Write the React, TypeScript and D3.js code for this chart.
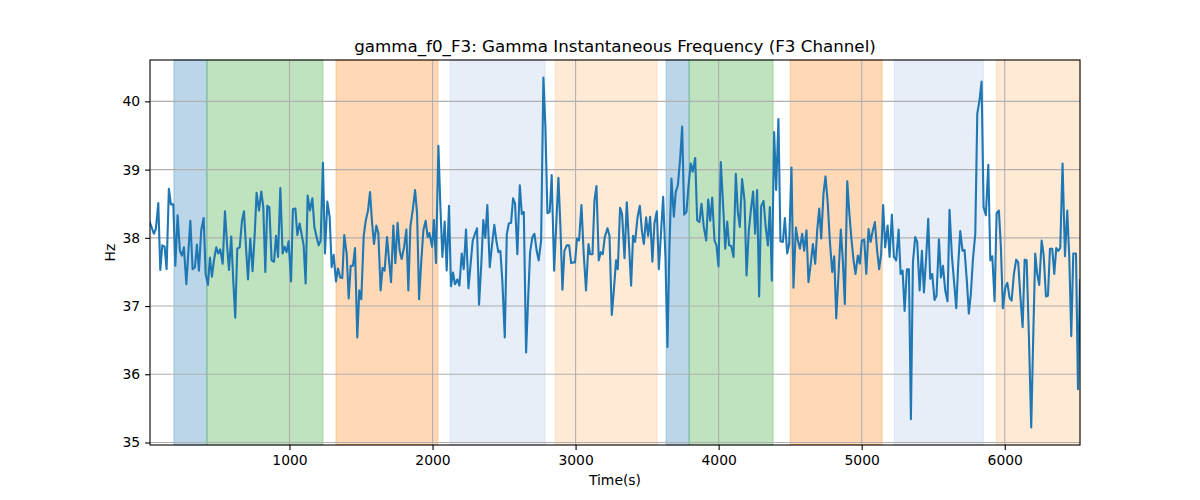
import React, { useEffect, useRef } from "react";
import * as d3 from "d3";

// time (s) of each sample
const times = [
  25, 52, 66, 83, 97, 111, 127, 141, 157, 171, 188, 202, 218, 234, 248, 262, 279, 307, 323, 339,
  353, 367, 383, 400, 414, 430, 444, 458, 472, 488, 502, 516, 533, 549, 565, 577, 593, 607, 621, 635,
  652, 668, 682, 696, 710, 726, 742, 756, 770, 787, 803, 817, 831, 845, 859, 875, 892, 906, 920, 936,
  952, 966, 980, 994, 1011, 1024, 1041, 1055, 1071, 1099, 1113, 1127,
  1143, 1160, 1174, 1190, 1204, 1218, 1234, 1248, 1265, 1281, 1295, 1309, 1325, 1339, 1355, 1369, 1383, 1400,
  1414, 1428, 1444, 1458, 1474, 1488, 1502, 1519, 1533, 1549, 1563, 1577, 1591, 1607, 1621, 1637, 1651, 1665,
  1682, 1696, 1710, 1726, 1740, 1756, 1770, 1784, 1801, 1817, 1831, 1845, 1861, 1878, 1892, 1906, 1920, 1936,
  1952, 1966, 1978, 1997, 2010, 2024, 2041, 2055, 2069, 2085, 2099, 2115, 2129, 2143, 2157, 2174, 2188,
  2204, 2218, 2234, 2251, 2265, 2281, 2297, 2311, 2325, 2341, 2355, 2369, 2383, 2400, 2414, 2432, 2446, 2460,
  2474, 2488, 2505, 2519, 2533, 2549, 2563, 2577, 2593, 2610, 2624, 2638, 2654, 2668, 2682, 2698, 2712, 2728,
  2742, 2759, 2775, 2789, 2803, 2819, 2833, 2850, 2864, 2880, 2894, 2908, 2922, 2938, 2955, 2969, 2983, 2996,
  3010, 3024, 3041, 3057, 3073, 3090, 3101, 3118, 3132, 3146, 3162, 3176, 3190, 3204, 3223, 3237, 3253,
  3267, 3283, 3295, 3311, 3325, 3342, 3358, 3372, 3388, 3402, 3416, 3433, 3449, 3463, 3477, 3493, 3507, 3521,
  3537, 3551, 3568, 3582, 3596, 3612, 3628, 3642, 3656, 3670, 3687, 3700, 3715, 3731, 3745, 3759, 3775, 3789,
  3805, 3819, 3836, 3850, 3866, 3880, 3896, 3913, 3927, 3941, 3955, 3971, 3985, 3999, 4015, 4032, 4046, 4060,
  4073, 4088, 4104, 4120, 4134, 4148, 4164, 4181, 4195, 4211, 4225, 4241, 4255, 4269, 4283, 4297, 4314, 4328,
  4344, 4358,
  4372, 4388, 4402, 4418, 4432, 4449, 4463, 4479, 4493, 4509, 4523, 4540, 4554, 4568, 4584, 4598, 4614, 4628,
  4645, 4659, 4675, 4689, 4703, 4717, 4733, 4747, 4763, 4777, 4794, 4808, 4822, 4838, 4854, 4868, 4882, 4899,
  4913, 4927, 4943, 4957, 4973, 4987, 5001, 5018, 5032, 5048, 5062, 5078, 5092, 5108, 5122, 5136, 5150, 5164,
  5181, 5195, 5211, 5225, 5241, 5258, 5272, 5286, 5300, 5316, 5330, 5344, 5358, 5374, 5388, 5405, 5421, 5435,
  5451, 5465, 5479, 5493, 5509, 5523, 5540, 5554, 5568, 5584, 5600, 5614, 5631, 5645, 5661, 5675, 5689, 5705,
  5719, 5735, 5749, 5763, 5777, 5794, 5808, 5824, 5838, 5852, 5868, 5885, 5899, 5913, 5929, 5943, 5959, 5973,
  5987, 6004, 6018, 6034, 6048, 6064, 6080, 6094, 6108, 6125, 6139, 6153, 6169, 6185, 6199, 6213, 6227, 6241,
  6258, 6272, 6288, 6302, 6316, 6332, 6346, 6360, 6374, 6388, 6404, 6421, 6437, 6451, 6465, 6479, 6498, 6512,
  6526,
];

// gamma instantaneous frequency (Hz)
const freqs = [
  38.22, 38.06, 38.13, 38.51, 37.53, 37.89, 37.87, 37.54, 38.72, 38.49, 38.49, 37.59, 38.33, 37.81, 37.74, 37.86, 37.32, 38.25, 37.54, 37.57,
  37.9, 37.52, 38.11, 38.29, 37.47, 37.31, 37.71, 37.43, 37.67, 37.86, 37.77, 37.83, 37.62, 38.39, 37.86, 37.53, 38.02, 37.37, 36.83, 37.84,
  37.86, 38.25, 38.39, 37.86, 37.39, 37.99, 37.51, 38.01, 38.66, 38.4, 38.68, 38.45, 37.5, 38.47, 38.45, 37.67, 37.65, 38.03, 37.72, 38.73,
  37.77, 37.87, 37.79, 37.95, 37.36, 38.42, 38.43, 38.04, 38.21, 37.89, 37.33, 38.62,
  38.4, 38.58, 38.16, 38.01, 37.89, 37.96, 39.1, 37.77, 38.53, 38.3, 37.57, 37.75, 37.36, 37.55, 37.42, 37.41, 38.04, 37.76,
  37.11, 37.59, 37.59, 37.85, 36.54, 37.23, 37.1, 38.03, 38.25, 38.4, 38.67, 38.23, 37.91, 38.18, 38.07, 37.23, 37.56, 37.52,
  38.01, 37.67, 37.35, 38.18, 37.63, 38.22, 37.81, 37.69, 37.86, 38.12, 37.23, 38.16, 38.4, 38.7, 38.35, 37.1, 37.62, 38.11,
  38.25, 38.01, 38.07, 37.87, 38.26, 37.63, 39.35, 38.45, 37.72, 38.24, 37.52, 38.47, 37.29, 37.49, 37.32, 37.39, 37.3,
  37.77, 37.54, 38.12, 37.26, 37.59, 37.96, 38.06, 38.14, 37.02, 37.62, 38.26, 38.0, 38.48, 37.57, 37.86, 38.19, 37.96, 37.79,
  37.81, 37.37, 36.54, 38.05, 38.21, 38.22, 38.58, 38.5, 37.76, 38.77, 38.35, 38.38, 36.32, 37.09, 37.79, 38.01, 38.06, 37.81,
  37.67, 37.96, 40.35, 39.63, 38.36, 38.38, 38.92, 37.52, 38.16, 38.88, 38.16, 37.24, 37.81, 37.89, 37.89, 37.63, 37.64, 37.64,
  37.99, 37.96, 38.48, 37.76, 37.23, 37.91, 37.76, 37.76, 38.55, 38.76, 37.67, 37.79, 37.76, 38.01, 38.14, 38.03, 36.87,
  37.22, 37.67, 37.54, 38.44, 38.35, 37.7, 38.52, 37.96, 37.3, 38.03, 37.94, 38.3, 38.47, 38.11, 37.91, 38.3, 38.03, 38.31,
  37.65, 38.21, 38.39, 37.54, 38.03, 38.6, 37.72, 36.4, 37.86, 38.87, 38.31, 38.67, 38.77, 39.16, 39.63, 38.34, 38.38, 38.75,
  39.09, 38.97, 39.17, 38.26, 38.23, 38.5, 38.16, 37.96, 38.56, 38.25, 38.59, 37.96, 37.89, 37.58, 39.11, 38.45, 37.84, 38.24,
  37.89, 37.88, 37.72, 38.94, 38.38, 38.16, 38.86, 38.55, 37.45, 38.11, 38.4, 38.68, 38.06, 38.7, 37.14, 38.46, 38.54, 38.18,
  37.89, 38.45,
  37.37, 39.55, 38.7, 39.74, 37.95, 37.94, 38.29, 37.77, 37.91, 39.03, 37.27, 38.15, 37.96, 37.84, 38.06, 37.81, 38.11, 37.35,
  37.64, 37.91, 37.62, 38.11, 38.43, 37.99, 38.65, 38.9, 38.5, 37.96, 37.5, 37.73, 36.82, 37.47, 38.12, 37.67, 37.03, 38.83,
  38.38, 38.01, 37.67, 37.47, 37.74, 37.62, 37.96, 37.97, 37.47, 38.13, 37.94, 38.11, 38.23, 37.81, 37.54, 37.76, 38.48, 37.86,
  38.18, 37.72, 38.34, 37.72, 37.67, 38.12, 37.47, 37.52, 36.93, 37.54, 37.54, 35.34, 37.64, 38.01, 37.94, 37.23, 37.81, 37.2,
  37.72, 38.28, 37.4, 37.47, 37.09, 37.15, 37.98, 37.42, 37.59, 37.23, 37.07, 38.41, 37.72, 37.37, 36.97, 37.62, 38.1, 37.81,
  37.82, 37.37, 36.89, 37.18, 37.67, 38.06, 39.82, 40.02, 40.29, 38.45, 38.33, 39.07, 37.67, 37.73, 37.07, 38.36, 38.4, 37.86,
  36.97, 37.27, 37.34, 37.12, 37.08, 37.47, 37.68, 37.64, 37.18, 36.69, 37.68, 37.67, 36.54, 35.22, 36.54, 37.77, 37.47, 37.31,
  37.96, 37.75, 37.14, 37.15, 37.84, 37.84, 37.47, 37.85, 37.81, 37.85, 39.09, 37.73, 38.4, 37.72, 36.56, 37.77, 37.77, 35.78,
  37.38,
];

// shaded segments: start, end, kind
const segStarts = [192, 423, 1325, 2122, 2857, 3633, 3794, 4500, 5228, 5941];
const segEnds = [423, 1234, 2038, 2787, 3570, 3794, 4381, 5143, 5851, 6527];
const segKinds = ["blue", "green", "orange", "lightblue", "lightorange", "blue", "green", "orange", "lightblue", "lightorange"];

const xTicks = [1000, 2000, 3000, 4000, 5000, 6000];
const yTicks = [35, 36, 37, 38, 39, 40];

const kindColor: Record<string, string> = {
  blue: "#1f77b4",
  green: "#2ca02c",
  orange: "#ff7f0e",
  lightblue: "#aec7e8",
  lightorange: "#ffbb78",
};

const W = 1200;
const H = 500;
const margin = { top: 60, right: 120, bottom: 55, left: 150 };
const font = "DejaVu Sans, sans-serif";

export default function App() {
  const xAxisRef = useRef<SVGGElement>(null);
  const yAxisRef = useRef<SVGGElement>(null);

  const innerW = W - margin.left - margin.right;
  const innerH = H - margin.top - margin.bottom;

  const x = d3.scaleLinear().domain([times[0], times[times.length - 1]]).range([0, innerW]);
  const yMin = d3.min(freqs) as number;
  const yMax = d3.max(freqs) as number;
  const pad = (yMax - yMin) * 0.05;
  const y = d3.scaleLinear().domain([yMin - pad, yMax + pad]).range([innerH, 0]);

  const points = times.map((t, i) => [t, freqs[i]] as [number, number]);
  const line = d3
    .line<[number, number]>()
    .x((d) => x(d[0]))
    .y((d) => y(d[1]));

  useEffect(() => {
    const gx = d3.select(xAxisRef.current);
    gx.call(
      d3.axisBottom(x).tickValues(xTicks).tickFormat(d3.format("d")).tickSize(4.9).tickPadding(4.9).tickSizeOuter(0)
    );
    gx.select(".domain").remove();
    gx.selectAll("text").attr("font-size", 13.9).attr("font-family", font).attr("fill", "#000");
    gx.selectAll("line").attr("stroke", "#000").attr("stroke-width", 1.1);

    const gy = d3.select(yAxisRef.current);
    gy.call(
      d3.axisLeft(y).tickValues(yTicks).tickFormat(d3.format("d")).tickSize(4.9).tickPadding(4.9).tickSizeOuter(0)
    );
    gy.select(".domain").remove();
    gy.selectAll("text").attr("font-size", 13.9).attr("font-family", font).attr("fill", "#000");
    gy.selectAll("line").attr("stroke", "#000").attr("stroke-width", 1.1);
  }, []);

  return (
    <svg width={W} height={H} style={{ position: "absolute", left: 0, top: 0, background: "#fff" }}>
      <g transform={`translate(${margin.left},${margin.top})`}>
        <defs>
          <clipPath id="plot-clip">
            <rect x={0} y={0} width={innerW} height={innerH} />
          </clipPath>
        </defs>
        {segStarts.map((s, i) => (
          <rect
            key={"seg" + i}
            x={x(s)}
            y={0}
            width={x(segEnds[i]) - x(s)}
            height={innerH}
            fill={kindColor[segKinds[i]]}
            fillOpacity={0.3}
            stroke={kindColor[segKinds[i]]}
            strokeOpacity={0.3}
            strokeWidth={1}
          />
        ))}
        {xTicks.map((t) => (
          <line key={"gx" + t} x1={x(t)} x2={x(t)} y1={0} y2={innerH} stroke="#b0b0b0" strokeWidth={1.1} />
        ))}
        {yTicks.map((t) => (
          <line key={"gy" + t} x1={0} x2={innerW} y1={y(t)} y2={y(t)} stroke="#b0b0b0" strokeWidth={1.1} />
        ))}
        <path
          d={line(points) || ""}
          fill="none"
          stroke="#1f77b4"
          strokeWidth={2.1}
          strokeLinejoin="round"
          strokeLinecap="square"
          clipPath="url(#plot-clip)"
        />
        <rect x={0} y={0} width={innerW} height={innerH} fill="none" stroke="#000" strokeWidth={1.1} />
        <g ref={xAxisRef} transform={`translate(0,${innerH})`} />
        <g ref={yAxisRef} />
        <text x={innerW / 2} y={-8.3} textAnchor="middle" fontSize={16.7} fontFamily={font} fill="#000">
          gamma_f0_F3: Gamma Instantaneous Frequency (F3 Channel)
        </text>
        <text x={innerW / 2} y={innerH + 40} textAnchor="middle" fontSize={13.9} fontFamily={font} fill="#000">
          Time(s)
        </text>
        <text
          transform={`translate(-35,${innerH / 2}) rotate(-90)`}
          textAnchor="middle"
          fontSize={13.9}
          fontFamily={font}
          fill="#000"
        >
          Hz
        </text>
      </g>
    </svg>
  );
}
